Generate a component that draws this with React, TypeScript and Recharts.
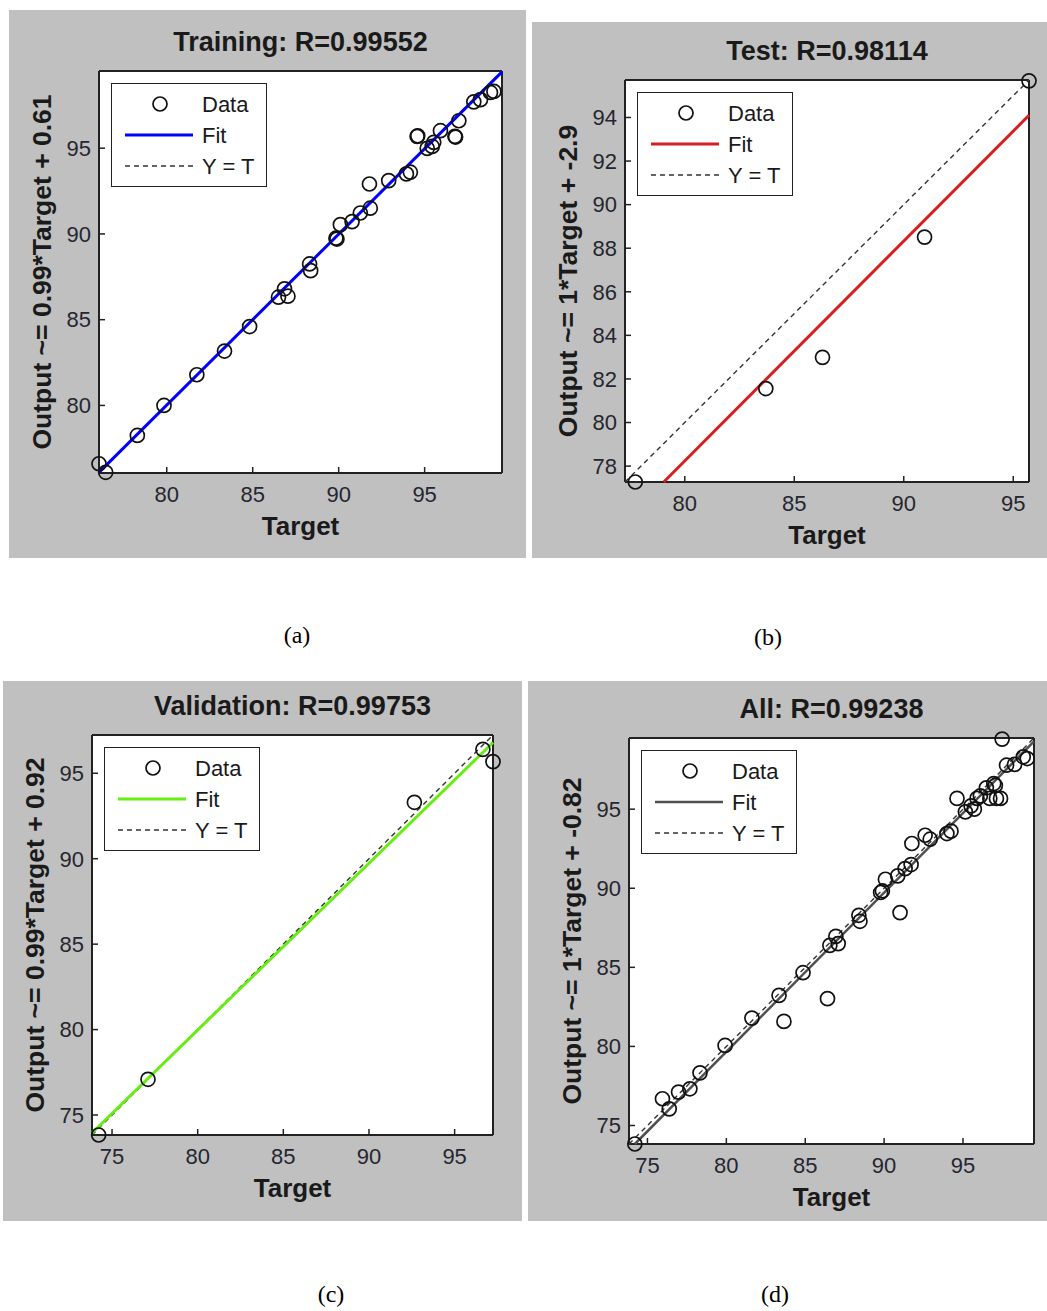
import React from 'react';
import { ScatterChart, Scatter, XAxis, YAxis, CartesianGrid } from 'recharts';

// ---- values ----

// (a) Training
const trainTarget = [76.06, 76.45, 78.29, 79.84, 81.75, 83.36, 84.82, 86.5, 86.85, 87.05, 88.31, 88.37, 89.84, 89.9, 90.1, 90.78, 91.26, 91.84, 91.79, 92.91, 93.94, 94.17, 94.56, 94.6, 95.15, 95.44, 95.53, 95.92, 96.76, 96.8, 96.99, 97.86, 98.25, 98.83, 99.03];
const trainOutput = [76.6, 76.1, 78.25, 80.0, 81.79, 83.17, 84.6, 86.31, 86.8, 86.37, 88.25, 87.86, 89.75, 89.7, 90.54, 90.72, 91.22, 91.5, 92.91, 93.11, 93.5, 93.6, 95.69, 95.72, 94.99, 95.1, 95.34, 96.02, 95.69, 95.65, 96.6, 97.7, 97.83, 98.25, 98.31];
const trainFitTarget = [76.06, 99.5];
const trainFitOutput = [76.1, 99.45];
const trainRange = [76.06, 99.5];
const trainTicks = [80, 85, 90, 95];

// (b) Test
const testTarget = [77.74, 83.7, 86.29, 90.95, 95.72];
const testOutput = [77.27, 81.56, 82.99, 88.51, 95.68];
const testFitTarget = [79.04, 95.72];
const testFitOutput = [77.27, 94.1];
const testRange = [77.27, 95.72];
const testXTicks = [80, 85, 90, 95];
const testYTicks = [78, 80, 82, 84, 86, 88, 90, 92, 94];

// (c) Validation
const valTarget = [74.22, 77.1, 92.65, 96.65, 97.24];
const valOutput = [73.83, 77.09, 93.3, 96.4, 95.68];
const valFitTarget = [73.83, 97.24];
const valFitOutput = [73.95, 96.8];
const valRange = [73.83, 97.24];
const valTicks = [75, 80, 85, 90, 95];

// (d) All
const allTarget = [74.2, 75.95, 76.38, 76.97, 77.69, 78.33, 79.92, 81.62, 83.34, 83.65, 84.86, 86.41, 86.56, 86.94, 87.09, 88.4, 88.47, 89.78, 89.89, 90.08, 90.86, 91.01, 91.33, 91.71, 91.76, 92.6, 92.92, 93.98, 94.24, 94.62, 95.15, 95.51, 95.72, 95.89, 96.1, 96.48, 96.7, 96.95, 97.05, 97.12, 97.38, 97.48, 97.76, 98.27, 98.82, 99.07];
const allOutput = [73.83, 76.69, 76.05, 77.11, 77.32, 78.33, 80.06, 81.79, 83.23, 81.58, 84.66, 83.02, 86.39, 86.96, 86.5, 88.29, 87.91, 89.73, 89.83, 90.57, 90.78, 88.46, 91.24, 91.5, 92.83, 93.35, 93.1, 93.46, 93.61, 95.68, 94.83, 95.21, 95.0, 95.68, 95.84, 96.35, 95.68, 96.62, 96.5, 95.68, 95.68, 99.43, 97.78, 97.83, 98.31, 98.2];
const allFitTarget = [74.2, 99.5];
const allFitOutput = [73.83, 99.28];
const allRange = [73.83, 99.5];
const allTicks = [75, 80, 85, 90, 95];

const toPoints = (xs: number[], ys: number[]) => xs.map((x, i) => ({ x, y: ys[i] }));

const SANS = 'Arial, "Liberation Sans", Helvetica, sans-serif';
const SERIF = '"Times New Roman", "Liberation Serif", serif';
const INK = '#1a1a1a';

type Rect = { x: number; y: number; w: number; h: number };
type PlotBox = { l: number; t: number; r: number; b: number };

interface PanelProps {
  title: string;
  yLabel: string;
  target: number[];
  output: number[];
  fitTarget: number[];
  fitOutput: number[];
  range: number[];
  xTicks: number[];
  yTicks: number[];
  fitColor: string;
  fitWidth: number;
  box: Rect;
  plot: PlotBox;
}

const Ring = (props: any) => {
  const { cx, cy } = props;
  if (cx == null || cy == null) return <g />;
  return <circle cx={cx} cy={cy} r={7} fill="none" stroke="#111" strokeWidth={1.7} />;
};

const NoDot = () => <g />;

const YW = 60;
const XH = 40;
const TH = 1;
const RW = 1;

function RegressionPanel(p: PanelProps) {
  const { box, plot } = p;
  const margin = {
    left: plot.l - box.x - YW,
    top: plot.t - box.y - TH,
    right: box.x + box.w - plot.r - RW,
    bottom: box.y + box.h - plot.b - XH,
  };
  const px = plot.l - box.x;
  const py = plot.t - box.y;
  const pw = plot.r - plot.l;
  const ph = plot.b - plot.t;

  const identity = toPoints([p.range[0], p.range[1]], [p.range[0], p.range[1]]);
  const fit = toPoints(p.fitTarget, p.fitOutput);
  const points = toPoints(p.target, p.output);

  const axisLine = { stroke: '#222', strokeWidth: 2 };
  const tickLine = { stroke: '#222', strokeWidth: 1.5 };
  const tickStyle = { fill: '#262630', fontSize: 22, fontFamily: SANS };

  return (
    <div style={{ position: 'absolute', left: box.x, top: box.y, width: box.w, height: box.h, background: '#c0c0c0' }}>
      <ScatterChart width={box.w} height={box.h} margin={margin}>
        <CartesianGrid fill="#ffffff" horizontal={false} vertical={false} stroke="none" />
        <XAxis
          type="number"
          dataKey="x"
          domain={p.range}
          ticks={p.xTicks}
          interval={0}
          height={XH}
          tickSize={-6}
          tickMargin={19}
          axisLine={axisLine}
          tickLine={tickLine}
          tick={tickStyle}
        />
        <XAxis
          xAxisId="top"
          orientation="top"
          type="number"
          domain={p.range}
          ticks={p.xTicks}
          interval={0}
          height={TH}
          tickSize={-6}
          axisLine={axisLine}
          tickLine={tickLine}
          tickFormatter={() => ''}
        />
        <YAxis
          type="number"
          dataKey="y"
          domain={p.range}
          ticks={p.yTicks}
          interval={0}
          width={YW}
          tickSize={-6}
          tickMargin={14}
          axisLine={axisLine}
          tickLine={tickLine}
          tick={tickStyle}
        />
        <YAxis
          yAxisId="right"
          orientation="right"
          type="number"
          domain={p.range}
          ticks={p.yTicks}
          interval={0}
          width={RW}
          tickSize={-6}
          axisLine={axisLine}
          tickLine={tickLine}
          tickFormatter={() => ''}
        />
        <Scatter
          data={identity}
          shape={NoDot}
          line={{ stroke: '#333', strokeWidth: 1.4, strokeDasharray: '5 4' }}
          isAnimationActive={false}
        />
        <Scatter
          data={fit}
          shape={NoDot}
          line={{ stroke: p.fitColor, strokeWidth: p.fitWidth }}
          isAnimationActive={false}
        />
        <Scatter data={points} shape={Ring} isAnimationActive={false} />
      </ScatterChart>

      {/* title */}
      <div
        style={{
          position: 'absolute', left: px, top: py - 29 - 16, width: pw, height: 32, lineHeight: '32px',
          textAlign: 'center', fontFamily: SANS, fontWeight: 'bold', fontSize: 27, color: INK, whiteSpace: 'nowrap',
        }}
      >
        {p.title}
      </div>

      {/* y label */}
      <div
        style={{
          position: 'absolute', left: px - 57, top: py + ph / 2, transform: 'translate(-50%, -50%) rotate(-90deg)',
          fontFamily: SANS, fontWeight: 'bold', fontSize: 26.5, color: INK, whiteSpace: 'nowrap', lineHeight: '30px',
        }}
      >
        {p.yLabel}
      </div>

      {/* x label */}
      <div
        style={{
          position: 'absolute', left: px, top: py + ph + 53 - 15, width: pw, height: 30, lineHeight: '30px',
          textAlign: 'center', fontFamily: SANS, fontWeight: 'bold', fontSize: 26, color: INK,
        }}
      >
        Target
      </div>

      {/* legend */}
      <div
        style={{
          position: 'absolute', left: px + 12, top: py + 12, width: 156, height: 104, boxSizing: 'border-box',
          border: '1.5px solid #222', background: '#fff',
        }}
      >
        <svg width={153} height={101} style={{ display: 'block' }}>
          <circle cx={48} cy={20} r={7} fill="none" stroke="#111" strokeWidth={1.7} />
          <line x1={13} y1={51} x2={81} y2={51} stroke={p.fitColor} strokeWidth={p.fitWidth} />
          <line x1={13} y1={82} x2={81} y2={82} stroke="#333" strokeWidth={1.4} strokeDasharray="5 4" />
          <text x={90} y={20} dominantBaseline="central" fontFamily={SANS} fontSize={22} fill={INK}>Data</text>
          <text x={90} y={51} dominantBaseline="central" fontFamily={SANS} fontSize={22} fill={INK}>Fit</text>
          <text x={90} y={82} dominantBaseline="central" fontFamily={SANS} fontSize={22} fill={INK}>Y = T</text>
        </svg>
      </div>
    </div>
  );
}

function Caption({ x, y, text }: { x: number; y: number; text: string }) {
  return (
    <div
      style={{
        position: 'absolute', left: x - 40, top: y - 14, width: 80, height: 28, lineHeight: '28px',
        textAlign: 'center', fontFamily: SERIF, fontSize: 24, color: '#000',
      }}
    >
      {text}
    </div>
  );
}

export default function App() {
  return (
    <div style={{ position: 'absolute', left: 0, top: 0, width: 1047, height: 1311, background: '#fff', overflow: 'hidden' }}>
      <RegressionPanel
        title="Training: R=0.99552"
        yLabel="Output ~= 0.99*Target + 0.61"
        target={trainTarget}
        output={trainOutput}
        fitTarget={trainFitTarget}
        fitOutput={trainFitOutput}
        range={trainRange}
        xTicks={trainTicks}
        yTicks={trainTicks}
        fitColor="#0000ff"
        fitWidth={3}
        box={{ x: 9, y: 10, w: 517, h: 548 }}
        plot={{ l: 99, t: 71, r: 502, b: 473 }}
      />
      <RegressionPanel
        title="Test: R=0.98114"
        yLabel="Output ~= 1*Target + -2.9"
        target={testTarget}
        output={testOutput}
        fitTarget={testFitTarget}
        fitOutput={testFitOutput}
        range={testRange}
        xTicks={testXTicks}
        yTicks={testYTicks}
        fitColor="#d81e1e"
        fitWidth={3}
        box={{ x: 532, y: 22, w: 515, h: 536 }}
        plot={{ l: 625, t: 80, r: 1029, b: 482 }}
      />
      <RegressionPanel
        title="Validation: R=0.99753"
        yLabel="Output ~= 0.99*Target + 0.92"
        target={valTarget}
        output={valOutput}
        fitTarget={valFitTarget}
        fitOutput={valFitOutput}
        range={valRange}
        xTicks={valTicks}
        yTicks={valTicks}
        fitColor="#66ee11"
        fitWidth={3}
        box={{ x: 3, y: 681, w: 519, h: 540 }}
        plot={{ l: 92, t: 735, r: 493, b: 1135 }}
      />
      <RegressionPanel
        title="All: R=0.99238"
        yLabel="Output ~= 1*Target + -0.82"
        target={allTarget}
        output={allOutput}
        fitTarget={allFitTarget}
        fitOutput={allFitOutput}
        range={allRange}
        xTicks={allTicks}
        yTicks={allTicks}
        fitColor="#505050"
        fitWidth={2.5}
        box={{ x: 528, y: 681, w: 519, h: 540 }}
        plot={{ l: 629, t: 738, r: 1034, b: 1144 }}
      />
      <Caption x={297} y={635} text="(a)" />
      <Caption x={768} y={637} text="(b)" />
      <Caption x={331} y={1294} text="(c)" />
      <Caption x={775} y={1294} text="(d)" />
    </div>
  );
}
